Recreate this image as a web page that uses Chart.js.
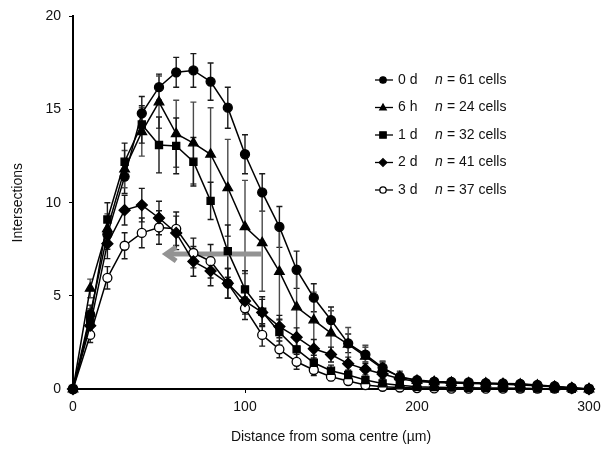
<!DOCTYPE html>
<html>
<head>
<meta charset="utf-8">
<script src="https://cdn.jsdelivr.net/npm/chart.js@4/dist/chart.umd.min.js"></script>
<style>
  html, body { margin: 0; padding: 0; background: #fff; }
  #wrap { width: 608px; height: 453px; }
</style>
</head>
<body>
<div id="wrap"><canvas id="chart" width="608" height="453"></canvas></div>
<script>
// ── Data ─────────────────────────────────────────────────────
const distances = [0, 10, 20, 30, 40, 50, 60, 70, 80, 90, 100, 110, 120, 130, 140, 150,
                   160, 170, 180, 190, 200, 210, 220, 230, 240, 250, 260, 270, 280, 290, 300];

const seriesLabels = ['0 d', '6 h', '1 d', '2 d', '3 d'];
const cellCounts   = ['n = 61 cells', 'n = 24 cells', 'n = 32 cells', 'n = 41 cells', 'n = 37 cells'];

const day0 = [0, 4.0, 8.3, 11.4, 14.8, 16.2, 17.0, 17.1, 16.5, 15.1, 12.6, 10.55, 8.7, 6.4, 4.9, 3.7,
              2.45, 1.85, 1.15, 0.65, 0.48, 0.4, 0.38, 0.35, 0.32, 0.3, 0.28, 0.22, 0.15, 0.07, 0];
const day0Err = [0, 0.5, 0.8, 0.9, 0.9, 0.7, 0.8, 0.9, 1.0, 1.1, 1.05, 1.0, 1.1, 1.0, 0.75, 0.7,
                 0.5, 0.4, 0.3, 0.2, 0.15, 0.1, 0.1, 0.1, 0.1, 0.1, 0.1, 0.1, 0.08, 0.05, 0];

const hour6 = [0, 5.4, 8.6, 11.8, 13.8, 15.4, 13.7, 13.2, 12.6, 10.8, 8.7, 7.85, 6.3, 4.4, 3.7, 3.0,
               2.4, 1.75, 1.1, 0.65, 0.45, 0.38, 0.35, 0.32, 0.3, 0.28, 0.25, 0.2, 0.12, 0.05, 0];
const hour6Err = [0, 0.5, 0.8, 1.0, 1.3, 1.4, 1.8, 2.2, 2.5, 2.6, 2.5, 2.6, 2.6, 2.2, 1.5, 1.2,
                  0.9, 0.6, 0.4, 0.3, 0.2, 0.1, 0.1, 0.1, 0.1, 0.1, 0.1, 0.1, 0.08, 0.05, 0];

const day1 = [0, 3.7, 9.1, 12.2, 14.2, 13.1, 13.05, 12.2, 10.1, 7.4, 5.35, 4.15, 3.05, 2.13, 1.41, 0.98,
              0.75, 0.48, 0.3, 0.2, 0.12, 0.1, 0.08, 0.07, 0.06, 0.05, 0.04, 0.03, 0.02, 0.01, 0];
const day1Err = [0, 0.6, 0.9, 1.0, 1.0, 1.5, 1.5, 1.3, 1.0, 1.4, 1.0, 0.8, 0.7, 0.5, 0.4, 0.3,
                 0.25, 0.2, 0.15, 0.1, 0.05, 0.05, 0.05, 0.05, 0.05, 0.05, 0.05, 0.05, 0.05, 0.05, 0];

const day2 = [0, 3.4, 7.8, 9.6, 9.87, 9.18, 8.38, 6.85, 6.34, 5.67, 4.72, 4.11, 3.35, 2.78, 2.16, 1.85,
              1.36, 1.06, 0.8, 0.55, 0.4, 0.35, 0.32, 0.3, 0.28, 0.25, 0.22, 0.18, 0.12, 0.05, 0];
const day2Err = [0, 0.5, 0.8, 0.8, 0.9, 0.9, 0.9, 0.8, 0.8, 0.8, 0.7, 0.7, 0.6, 0.5, 0.5, 0.4,
                 0.35, 0.3, 0.25, 0.2, 0.15, 0.1, 0.1, 0.1, 0.1, 0.1, 0.1, 0.1, 0.08, 0.05, 0];

const day3 = [0, 2.9, 5.97, 7.69, 8.38, 8.67, 8.6, 7.3, 6.86, 5.67, 4.33, 2.9, 2.13, 1.46, 1.02, 0.66,
              0.43, 0.21, 0.12, 0.08, 0.05, 0.03, 0.02, 0.02, 0.02, 0.02, 0.02, 0.02, 0.02, 0.02, 0];
const day3Err = [0, 0.4, 0.6, 0.7, 0.8, 0.9, 0.9, 0.8, 0.9, 0.8, 0.6, 0.6, 0.45, 0.4, 0.3, 0.2,
                 0.15, 0.1, 0.08, 0.05, 0.03, 0.02, 0.02, 0.02, 0.02, 0.02, 0.02, 0.02, 0.02, 0.02, 0];

const xTicks = [0, 100, 200, 300];
const yTicks = [0, 5, 10, 15, 20];

// shift arrow (data units): from 110 µm back to ~53 µm at 7.25 intersections
const arrowFrom = [110, 7.25];
const arrowTo   = [53, 7.25];

const FONT = "'Liberation Sans', Arial, Helvetica, sans-serif";

// ── Datasets ─────────────────────────────────────────────────
const styles = [
    { pointStyle: 'circle',   radius: 4.5, fill: '#000', errColor: '#1a1a1a' },
    { pointStyle: 'triangle', radius: 5.5, fill: '#000', errColor: '#4a4a4a' },
    { pointStyle: 'rect',     radius: 5,   fill: '#000', errColor: '#1a1a1a' },
    { pointStyle: 'rectRot',  radius: 5.5, fill: '#000', errColor: '#1a1a1a' },
    { pointStyle: 'circle',   radius: 4.5, fill: '#fff', errColor: '#1a1a1a' },
];
const values = [day0, hour6, day1, day2, day3];
const errors = [day0Err, hour6Err, day1Err, day2Err, day3Err];

const datasets = values.map((vals, i) => ({
    label: seriesLabels[i],
    data: vals.map((v, j) => ({ x: distances[j], y: v })),
    errors: errors[i],
    errColor: styles[i].errColor,
    borderColor: '#000',
    borderWidth: 1.5,
    pointStyle: styles[i].pointStyle,
    pointRadius: styles[i].radius,
    pointHoverRadius: styles[i].radius,
    pointBackgroundColor: styles[i].fill,
    pointBorderColor: '#000',
    pointBorderWidth: 1.3,
    tension: 0,
    clip: false,
}));

// ── Error bars + arrow (drawn under the markers) ──────────────
const errorBars = {
    id: 'errorBars',
    beforeDatasetsDraw(chart) {
        const { ctx, scales: { x, y } } = chart;
        ctx.save();
        ctx.lineWidth = 1.4;
        chart.data.datasets.forEach(ds => {
            ctx.strokeStyle = ds.errColor;
            ds.data.forEach((p, j) => {
                const e = ds.errors[j];
                if (!e) return;
                const px = x.getPixelForValue(p.x);
                const top = y.getPixelForValue(p.y + e);
                const bot = y.getPixelForValue(Math.max(0, p.y - e));
                ctx.beginPath();
                ctx.moveTo(px, top); ctx.lineTo(px, bot);
                ctx.moveTo(px - 3, top); ctx.lineTo(px + 3, top);
                ctx.moveTo(px - 3, bot); ctx.lineTo(px + 3, bot);
                ctx.stroke();
            });
        });

        // grey arrow
        const x0 = x.getPixelForValue(arrowFrom[0]), y0 = y.getPixelForValue(arrowFrom[1]);
        const x1 = x.getPixelForValue(arrowTo[0]),   y1 = y.getPixelForValue(arrowTo[1]);
        ctx.strokeStyle = '#939393';
        ctx.lineWidth = 5;
        ctx.beginPath();
        ctx.moveTo(x0, y0); ctx.lineTo(x1 + 2, y1);
        ctx.stroke();
        ctx.lineJoin = 'miter';
        ctx.beginPath();
        ctx.moveTo(x1 + 12, y1 - 7);
        ctx.lineTo(x1 + 2, y1);
        ctx.lineTo(x1 + 12, y1 + 7);
        ctx.stroke();
        ctx.restore();
    }
};

// ── Legend ───────────────────────────────────────────────────
function drawMarker(ctx, style, cx, cy, r, fill) {
    ctx.beginPath();
    if (style === 'circle') {
        ctx.arc(cx, cy, r, 0, Math.PI * 2);
    } else if (style === 'triangle') {
        ctx.moveTo(cx, cy - r * 1.1);
        ctx.lineTo(cx + r, cy + r * 0.7);
        ctx.lineTo(cx - r, cy + r * 0.7);
        ctx.closePath();
    } else if (style === 'rect') {
        ctx.rect(cx - r, cy - r, r * 2, r * 2);
    } else {
        ctx.moveTo(cx, cy - r * 1.2);
        ctx.lineTo(cx + r * 1.2, cy);
        ctx.lineTo(cx, cy + r * 1.2);
        ctx.lineTo(cx - r * 1.2, cy);
        ctx.closePath();
    }
    ctx.fillStyle = fill;
    ctx.fill();
    ctx.stroke();
}

const legendBox = {
    id: 'legendBox',
    afterDraw(chart) {
        const { ctx } = chart;
        ctx.save();
        ctx.strokeStyle = '#000';
        ctx.lineWidth = 1.3;
        ctx.textBaseline = 'middle';
        seriesLabels.forEach((lab, i) => {
            const cy = 80 + i * 27.5;
            ctx.beginPath();
            ctx.moveTo(375, cy); ctx.lineTo(393, cy);
            ctx.stroke();
            drawMarker(ctx, styles[i].pointStyle, 383, cy, 3.2, styles[i].fill);
            ctx.fillStyle = '#111';
            ctx.font = `14px ${FONT}`;
            ctx.fillText(lab, 398, cy);
            ctx.font = `italic 14px ${FONT}`;
            ctx.fillText('n', 435, cy);
            ctx.font = `14px ${FONT}`;
            ctx.fillText(cellCounts[i].slice(1), 443, cy);
        });
        ctx.restore();
    }
};

// ── Chart ────────────────────────────────────────────────────
new Chart(document.getElementById('chart'), {
    type: 'line',
    data: { datasets },
    options: {
        responsive: false,
        animation: false,
        events: [],
        layout: { padding: { top: 16, right: 19, left: 0, bottom: 0 } },
        plugins: { legend: { display: false }, tooltip: { enabled: false } },
        scales: {
            x: {
                type: 'linear', min: 0, max: 300,
                afterFit: s => { s.height = 64; },
                afterBuildTicks: s => { s.ticks = xTicks.map(v => ({ value: v })); },
                grid: { drawOnChartArea: false, drawTicks: true, tickLength: 4, color: '#000', lineWidth: 1 },
                border: { display: true, color: '#000', width: 2 },
                ticks: { color: '#111', padding: 6, font: { family: FONT, size: 14 }, maxRotation: 0 },
                title: { display: true, text: 'Distance from soma centre (µm)', color: '#111',
                         font: { family: FONT, size: 14 }, padding: { top: 0, bottom: 7 } }
            },
            y: {
                min: 0, max: 20,
                afterFit: s => { s.width = 73; },
                afterBuildTicks: s => { s.ticks = yTicks.map(v => ({ value: v })); },
                grid: { drawOnChartArea: false, drawTicks: true, tickLength: 4, color: '#000', lineWidth: 1 },
                border: { display: true, color: '#000', width: 2 },
                ticks: { color: '#111', padding: 8, font: { family: FONT, size: 14 } },
                title: { display: true, text: 'Intersections', color: '#111',
                         font: { family: FONT, size: 14 }, padding: { top: 10, bottom: 0 } }
            }
        }
    },
    plugins: [errorBars, legendBox]
});
</script>
</body>
</html>
